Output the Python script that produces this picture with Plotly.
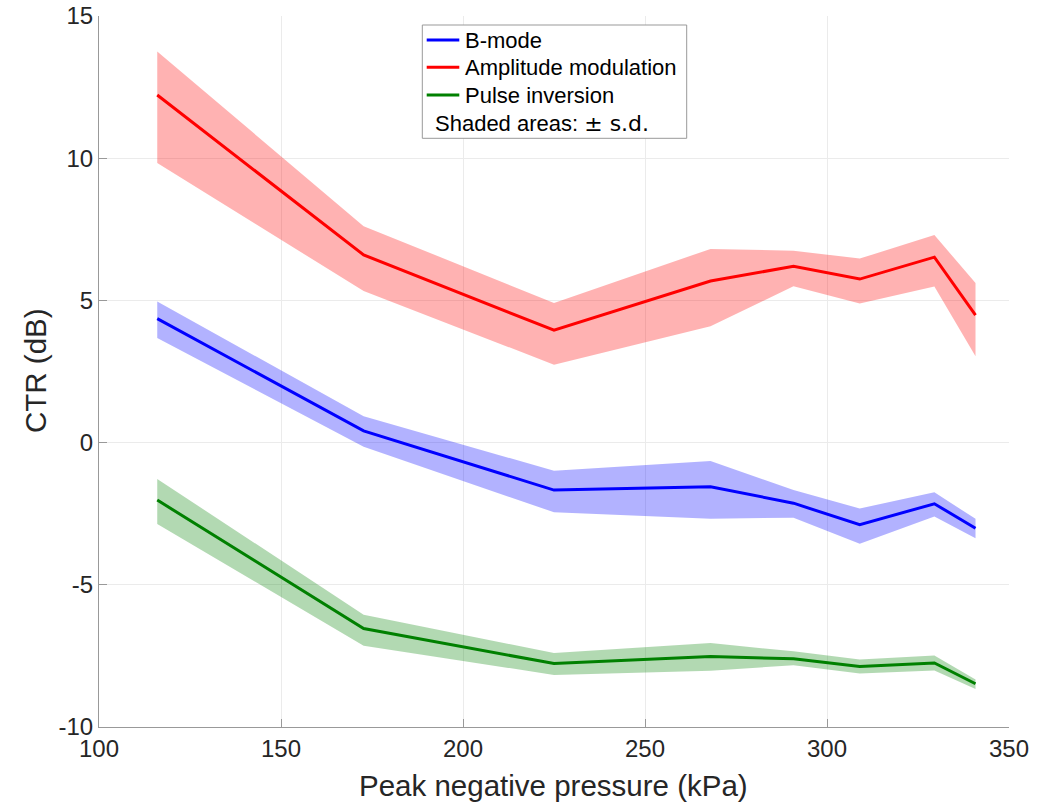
import plotly.graph_objects as go

# ---- data ----
pressure_kpa = [116, 172.7, 225, 268, 290.8, 309, 329.5, 340.8]

bmode_mean = [4.36, 0.41, -1.67, -1.55, -2.13, -2.89, -2.15, -3.01]
bmode_upper = [4.96, 0.93, -0.99, -0.65, -1.67, -2.32, -1.75, -2.68]
bmode_lower = [3.68, -0.15, -2.45, -2.68, -2.64, -3.56, -2.60, -3.36]

am_mean = [12.22, 6.60, 3.95, 5.68, 6.20, 5.75, 6.52, 4.48]
am_upper = [13.75, 7.61, 4.91, 6.81, 6.75, 6.47, 7.30, 5.61]
am_lower = [9.83, 5.33, 2.74, 4.09, 5.50, 4.89, 5.49, 3.04]

pi_mean = [-2.02, -6.54, -7.77, -7.52, -7.60, -7.87, -7.75, -8.48]
pi_upper = [-1.28, -6.05, -7.40, -7.05, -7.34, -7.63, -7.49, -8.33]
pi_lower = [-2.86, -7.14, -8.17, -8.02, -7.83, -8.12, -8.01, -8.66]

series_names = ["B-mode", "Amplitude modulation", "Pulse inversion"]
x_ticks = [100, 150, 200, 250, 300, 350]
x_tick_labels = ["100", "150", "200", "250", "300", "350"]
y_ticks = [-10, -5, 0, 5, 10, 15]
y_tick_labels = ["-10", "-5", "0", "5", "10", "15"]

# ---- styles ----
line_colors = ["#0000FF", "#FF0000", "#008000"]
fill_colors = ["rgba(0,0,255,0.3)", "rgba(255,0,0,0.3)", "rgba(0,128,0,0.3)"]
FONT = "Liberation Sans, Arial, Helvetica, sans-serif"
TXT = "#262626"

W, H = 1041, 807
L, R, T, B = 99, 32, 16, 80

fig = go.Figure()

groups = [
    (bmode_mean, bmode_upper, bmode_lower),
    (am_mean, am_upper, am_lower),
    (pi_mean, pi_upper, pi_lower),
]

for (m, up, lo), fc in zip(groups, fill_colors):
    fig.add_trace(go.Scatter(
        x=pressure_kpa + pressure_kpa[::-1],
        y=up + lo[::-1],
        fill="toself", fillcolor=fc, mode="lines",
        line=dict(width=0, color=fc), hoverinfo="skip", showlegend=False,
    ))

for (m, up, lo), lc, nm in zip(groups, line_colors, series_names):
    fig.add_trace(go.Scatter(
        x=pressure_kpa, y=m, mode="lines", name=nm,
        line=dict(color=lc, width=3), showlegend=False,
    ))

axis_common = dict(
    showgrid=True, gridcolor="#ebebeb", gridwidth=1,
    showline=True, linecolor="#999999", linewidth=1,
    ticks="inside", ticklen=8, tickcolor="#999999", tickwidth=1,
    tickfont=dict(family=FONT, size=24, color=TXT),
    zeroline=False, mirror=False, automargin=False,
)

fig.update_layout(
    width=W, height=H,
    margin=dict(l=L, r=R, t=T, b=B, pad=0, autoexpand=False),
    paper_bgcolor="white", plot_bgcolor="white",
    xaxis=dict(range=[100, 350], tickvals=x_ticks, ticktext=x_tick_labels, **axis_common),
    yaxis=dict(range=[-10, 15], tickvals=y_ticks, ticktext=y_tick_labels, **axis_common),
    showlegend=False,
)

# ---- pixel -> paper helpers ----
pw, ph = W - L - R, H - T - B
def px(xp):
    return (xp - L) / pw
def py(yp):
    return (H - B - yp) / ph

# axis titles
fig.add_annotation(xref="paper", yref="paper", x=px(553), y=py(785),
                   text="Peak negative pressure (kPa)", showarrow=False,
                   xanchor="center", yanchor="middle",
                   font=dict(family=FONT, size=29.5, color=TXT))
fig.add_annotation(xref="paper", yref="paper", x=px(35), y=py(371),
                   text="CTR (dB)", showarrow=False, textangle=-90,
                   xanchor="center", yanchor="middle",
                   font=dict(family=FONT, size=29.5, color=TXT))

# ---- manual legend ----
fig.add_shape(type="rect", xref="paper", yref="paper",
              x0=px(422.3), x1=px(686.7), y0=py(138.3), y1=py(25),
              line=dict(color="#999999", width=1), fillcolor="white", layer="above")

legend_rows = [40, 67.3, 95]
for yy, lc, nm in zip(legend_rows, line_colors, series_names):
    fig.add_shape(type="line", xref="paper", yref="paper",
                  x0=px(426.7), x1=px(459.3), y0=py(yy), y1=py(yy),
                  line=dict(color=lc, width=3), layer="above")
    fig.add_annotation(xref="paper", yref="paper", x=px(462.5), y=py(yy),
                       text=nm, showarrow=False, xanchor="left", yanchor="middle",
                       font=dict(family=FONT, size=22, color="black"))

fig.add_annotation(xref="paper", yref="paper", x=px(432.5), y=py(123.3),
                   text='Shaded areas: <span style="font-family:DejaVu Sans">± s.d.</span>',
                   showarrow=False, xanchor="left", yanchor="middle",
                   font=dict(family=FONT, size=22, color="black"))

fig.write_html("out.html")
